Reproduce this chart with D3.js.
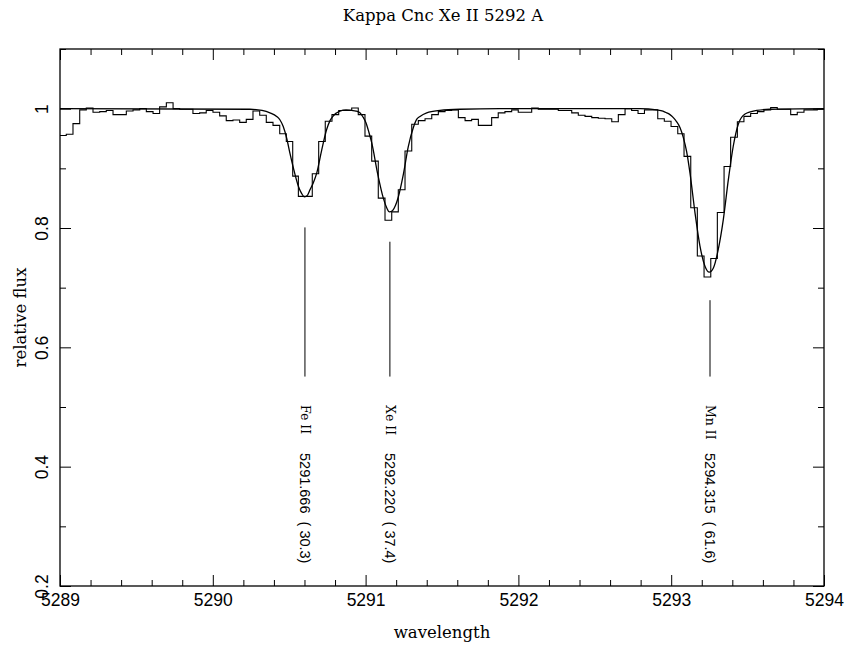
<!DOCTYPE html>
<html>
<head>
<meta charset="utf-8">
<script src="https://cdn.jsdelivr.net/npm/d3@7"></script>
<style>
body{margin:0;background:#fff;}
svg{display:block;}
text.linelab{white-space:pre;}
</style>
</head>
<body>
<svg id="chart" width="846" height="647"></svg>
<script>
// observed spectrum: left edge of every bin (last value = right end) and its flux
var obsWave = [5289.000,5289.041,5289.085,5289.129,5289.172,5289.216,5289.260,5289.303,5289.347,5289.391,
	5289.434,5289.478,5289.522,5289.565,5289.609,5289.652,5289.696,5289.740,5289.783,5289.827,
	5289.870,5289.914,5289.957,5290.001,5290.045,5290.088,5290.132,5290.176,5290.219,5290.263,
	5290.307,5290.350,5290.394,5290.438,5290.481,5290.523,5290.560,5290.603,5290.651,5290.693,
	5290.736,5290.780,5290.824,5290.867,5290.909,5290.952,5290.996,5291.040,5291.083,5291.127,
	5291.171,5291.214,5291.258,5291.302,5291.345,5291.389,5291.433,5291.476,5291.520,5291.563,
	5291.607,5291.651,5291.694,5291.738,5291.781,5291.825,5291.868,5291.912,5291.956,5291.999,
	5292.043,5292.087,5292.130,5292.174,5292.218,5292.261,5292.305,5292.349,5292.392,5292.436,
	5292.480,5292.523,5292.567,5292.611,5292.654,5292.698,5292.741,5292.783,5292.825,5292.868,
	5292.912,5292.955,5292.999,5293.043,5293.084,5293.128,5293.171,5293.215,5293.259,5293.302,
	5293.346,5293.389,5293.433,5293.476,5293.520,5293.564,5293.607,5293.651,5293.694,5293.738,
	5293.782,5293.825,5293.869,5293.913,5293.956,5294.000];
var obsFlux = [0.955,0.957,0.975,0.998,1.001,0.994,0.995,0.997,0.990,0.990,
	0.996,0.998,1.000,0.995,0.992,1.003,1.010,1.000,0.999,0.999,
	0.992,0.993,0.997,0.994,0.988,0.980,0.981,0.977,0.982,0.996,
	0.989,0.977,0.972,0.958,0.945,0.887,0.853,0.853,0.891,0.945,
	0.979,0.990,0.997,0.997,1.001,0.990,0.954,0.912,0.850,0.813,
	0.827,0.864,0.929,0.974,0.980,0.983,0.990,0.995,0.997,0.998,
	0.985,0.980,0.982,0.972,0.972,0.985,0.993,0.995,0.998,0.994,
	0.994,1.001,0.999,0.999,0.999,0.997,0.997,0.993,0.989,0.987,
	0.985,0.984,0.983,0.978,0.990,1.000,0.997,0.992,0.998,0.998,
	0.983,0.979,0.970,0.958,0.920,0.834,0.753,0.718,0.749,0.826,
	0.903,0.952,0.978,0.987,0.992,0.995,0.998,1.002,0.999,0.999,
	0.990,0.994,0.998,0.998,0.999];

// synthetic spectrum
var modelWave = [5289.000,5290.243,5290.322,5290.374,5290.418,5290.440,5290.461,5290.484,5290.505,5290.527,
	5290.560,5290.581,5290.600,5290.620,5290.636,5290.658,5290.680,5290.713,5290.745,5290.767,
	5290.789,5290.832,5290.872,5290.909,5290.937,5290.963,5290.983,5291.003,5291.022,5291.040,
	5291.078,5291.116,5291.138,5291.156,5291.176,5291.196,5291.214,5291.247,5291.279,5291.312,
	5291.334,5291.356,5291.400,5291.487,5291.618,5291.880,5292.534,5292.796,5292.905,5292.946,
	5292.971,5292.992,5293.014,5293.036,5293.058,5293.079,5293.101,5293.123,5293.156,5293.188,
	5293.221,5293.249,5293.276,5293.308,5293.341,5293.374,5293.406,5293.439,5293.483,5293.560,
	5293.647,5294.000];
var modelFlux = [1.000,0.999,0.997,0.993,0.987,0.981,0.970,0.950,0.925,0.901,
	0.870,0.858,0.852,0.855,0.864,0.876,0.892,0.931,0.965,0.980,
	0.988,0.996,0.998,0.997,0.996,0.993,0.986,0.976,0.960,0.943,
	0.892,0.850,0.834,0.827,0.829,0.838,0.852,0.890,0.936,0.968,
	0.982,0.987,0.993,0.997,0.999,1.000,1.000,1.000,0.998,0.996,
	0.993,0.990,0.985,0.978,0.968,0.952,0.928,0.892,0.825,0.770,
	0.736,0.726,0.733,0.764,0.814,0.881,0.937,0.974,0.991,0.997,
	0.999,1.000];

// line identifications
var lineIds = ["Fe II","Xe II","Mn II"];
var lineLabels = ["5291.666  ( 30.3)","5292.220  ( 37.4)","5294.315  ( 61.6)"];
var lineWave = [5290.603,5291.159,5293.254];
var lineTop = [0.801,0.777,0.679];
var lineBottom = [0.551,0.551,0.551];

var xTicks = [5289,5290,5291,5292,5293,5294];
var xMinor = [5289.2,5289.4,5289.6,5289.8,5290.2,5290.4,5290.6,5290.8,5291.2,5291.4,5291.6,5291.8,
	5292.2,5292.4,5292.6,5292.8,5293.2,5293.4,5293.6,5293.8];
var yTicks = [0.2,0.4,0.6,0.8,1];
var yTickLabels = ["0.2","0.4","0.6","0.8","1"];
var yMinor = [0.3,0.5,0.7,0.9,1.1];

var titleText = "Kappa Cnc Xe II 5292 A";
var xLabel = "wavelength";
var yLabel = "relative flux";

function drawChart(){
	var left = 60, right = 824, top = 49, bottom = 586;
	var svg = d3.select("#chart");

	var x = d3.scaleLinear().domain([5289,5294]).range([left,right]);
	var y = d3.scaleLinear().domain([0.2,1.1]).range([bottom,top]);

	var tickFont = "'Liberation Sans', Arial, sans-serif";
	var serifFont = "'DejaVu Serif', serif";

	// bottom axis, major ticks with labels
	var gb = svg.append("g").attr("transform","translate(0,"+bottom+")")
		.call(d3.axisBottom(x).tickValues(xTicks).tickFormat(d3.format("d")).tickSizeInner(-11).tickSizeOuter(0).tickPadding(8));
	gb.selectAll("text").attr("font-family",tickFont).attr("font-size","17.5px").attr("fill","#000");
	svg.append("g").attr("transform","translate(0,"+bottom+")")
		.call(d3.axisBottom(x).tickValues(xMinor).tickFormat("").tickSizeInner(-6).tickSizeOuter(0));

	// top axis, ticks only
	svg.append("g").attr("transform","translate(0,"+top+")")
		.call(d3.axisTop(x).tickValues(xTicks).tickFormat("").tickSizeInner(-11).tickSizeOuter(0));
	svg.append("g").attr("transform","translate(0,"+top+")")
		.call(d3.axisTop(x).tickValues(xMinor).tickFormat("").tickSizeInner(-6).tickSizeOuter(0));

	// left axis with rotated labels
	var gl = svg.append("g").attr("transform","translate("+left+",0)")
		.call(d3.axisLeft(y).tickValues(yTicks).tickFormat(function(d,i){ return yTickLabels[i]; })
			.tickSizeInner(-11).tickSizeOuter(0));
	gl.selectAll("text")
		.attr("x",0).attr("y",-12).attr("dy",null)
		.attr("transform","rotate(-90)")
		.attr("text-anchor","middle")
		.attr("font-family",tickFont).attr("font-size","17.5px").attr("fill","#000");
	svg.append("g").attr("transform","translate("+left+",0)")
		.call(d3.axisLeft(y).tickValues(yMinor).tickFormat("").tickSizeInner(-6).tickSizeOuter(0));

	// right axis, ticks only
	svg.append("g").attr("transform","translate("+right+",0)")
		.call(d3.axisRight(y).tickValues(yTicks).tickFormat("").tickSizeInner(-11).tickSizeOuter(0));
	svg.append("g").attr("transform","translate("+right+",0)")
		.call(d3.axisRight(y).tickValues(yMinor).tickFormat("").tickSizeInner(-6).tickSizeOuter(0));

	svg.selectAll(".domain").remove();
	svg.selectAll(".tick line").attr("stroke","#000").attr("stroke-width",1);

	// frame
	svg.append("rect")
		.attr("x",left).attr("y",top)
		.attr("width",right-left).attr("height",bottom-top)
		.attr("fill","none").attr("stroke","#000").attr("stroke-width",1.3);

	svg.append("clipPath").attr("id","plotclip").append("rect")
		.attr("x",left).attr("y",top).attr("width",right-left).attr("height",bottom-top);

	// observed histogram
	var obsPts = [];
	for(var i = 0;i < obsWave.length;i++){
		var f = i < obsFlux.length ? obsFlux[i] : obsFlux[obsFlux.length-1];
		obsPts.push([obsWave[i],f]);
	}
	var stepLine = d3.line()
		.x(function(d){ return x(d[0]); })
		.y(function(d){ return y(d[1]); })
		.curve(d3.curveStepAfter);
	svg.append("path")
		.attr("d",stepLine(obsPts))
		.attr("clip-path","url(#plotclip)")
		.attr("fill","none").attr("stroke","#000").attr("stroke-width",1.1);

	// model curve
	var modelPts = modelWave.map(function(w,i){ return [w,modelFlux[i]]; });
	var smooth = d3.line()
		.x(function(d){ return x(d[0]); })
		.y(function(d){ return y(d[1]); })
		.curve(d3.curveMonotoneX);
	svg.append("path")
		.attr("d",smooth(modelPts))
		.attr("clip-path","url(#plotclip)")
		.attr("fill","none").attr("stroke","#000").attr("stroke-width",1.3);

	// line markers and their labels
	svg.selectAll("line.marker")
		.data(lineWave)
		.enter()
		.append("line")
		.attr("class","marker")
		.attr("x1",function(d){ return x(d); })
		.attr("x2",function(d){ return x(d); })
		.attr("y1",function(d,i){ return y(lineTop[i]); })
		.attr("y2",function(d,i){ return y(lineBottom[i]); })
		.attr("stroke","#000").attr("stroke-width",1);

	svg.selectAll("text.lineid")
		.data(lineWave)
		.enter()
		.append("text")
		.attr("class","lineid")
		.attr("transform",function(d){ return "translate("+x(d)+",405) rotate(90)"; })
		.attr("dy","0.35em")
		.attr("font-family",serifFont).attr("font-size","12.5px")
		.text(function(d,i){ return lineIds[i]; });

	svg.selectAll("text.linelab")
		.data(lineWave)
		.enter()
		.append("text")
		.attr("class","linelab")
		.attr("transform",function(d){ return "translate("+x(d)+",453) rotate(90)"; })
		.attr("dy","0.35em")
		.attr("font-family",tickFont).attr("font-size","14.5px")
		.text(function(d,i){ return lineLabels[i]; });

	// title and axis titles
	svg.append("text")
		.attr("x",443).attr("y",21)
		.attr("text-anchor","middle")
		.attr("font-family",serifFont).attr("font-size","16.5px")
		.text(titleText);
	svg.append("text")
		.attr("x",(left+right)/2).attr("y",638)
		.attr("text-anchor","middle")
		.attr("font-family",serifFont).attr("font-size","16.5px")
		.text(xLabel);
	svg.append("text")
		.attr("transform","translate(26,"+((top+bottom)/2)+") rotate(-90)")
		.attr("text-anchor","middle")
		.attr("font-family",serifFont).attr("font-size","16.5px")
		.text(yLabel);
}

drawChart();
</script>
</body>
</html>
